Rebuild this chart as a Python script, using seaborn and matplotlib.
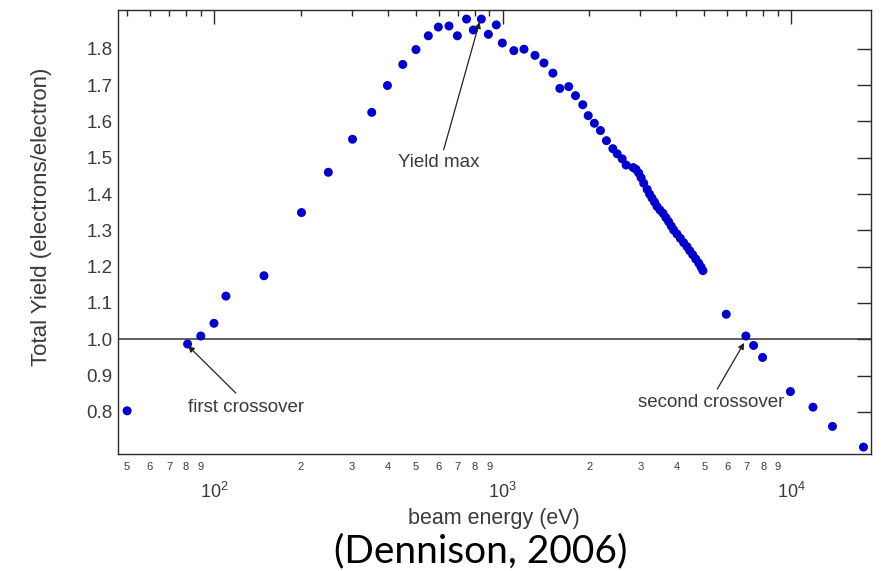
import numpy as np
import pandas as pd
import matplotlib
matplotlib.use("Agg")
import matplotlib.pyplot as plt
from matplotlib.ticker import FixedLocator, FixedFormatter
import seaborn as sns

# Total electron yield vs. incident beam energy
energy_ev = [50, 81, 90, 100, 110, 149, 201, 249, 302, 352, 399, 451, 501, 553,
             599, 652, 697, 750, 792, 844, 893, 951, 998, 1094, 1186, 1295, 1391,
             1494, 1579, 1695, 1789, 1896, 1980, 2080, 2183, 2290, 2410, 2495,
             2596, 2680, 2834, 2900, 2962, 3020, 3083, 3168, 3230, 3293, 3360,
             3427, 3510, 3597, 3680, 3760, 3840, 3915, 4020, 4130, 4240, 4356,
             4450, 4557, 4670, 4780, 4870, 4945, 5957, 6966, 7407, 7960, 9940,
             11900, 13900, 17800]
total_yield = [0.803, 0.987, 1.009, 1.044, 1.119, 1.175, 1.349, 1.460, 1.551,
               1.625, 1.699, 1.757, 1.798, 1.836, 1.860, 1.863, 1.836, 1.882,
               1.852, 1.882, 1.840, 1.866, 1.816, 1.795, 1.799, 1.782, 1.761,
               1.733, 1.691, 1.696, 1.671, 1.646, 1.616, 1.595, 1.575, 1.547,
               1.525, 1.511, 1.497, 1.480, 1.473, 1.468, 1.458, 1.445, 1.430,
               1.413, 1.400, 1.389, 1.378, 1.366, 1.356, 1.347, 1.335, 1.324,
               1.312, 1.301, 1.290, 1.278, 1.266, 1.255, 1.244, 1.233, 1.221,
               1.210, 1.199, 1.189, 1.069, 1.009, 0.983, 0.950, 0.856, 0.813,
               0.760, 0.703]

y_ticks = [0.8, 0.9, 1.0, 1.1, 1.2, 1.3, 1.4, 1.5, 1.6, 1.7, 1.8]
y_tick_labels = ["0.8", "0.9", "1.0", "1.1", "1.2", "1.3", "1.4", "1.5", "1.6", "1.7", "1.8"]
x_major = [1e2, 1e3, 1e4]
x_major_labels = ["$\\mathregular{10^{2}}$", "$\\mathregular{10^{3}}$", "$\\mathregular{10^{4}}$"]
x_minor = [50, 60, 70, 80, 90, 200, 300, 400, 500, 600, 700, 800, 900,
           2000, 3000, 4000, 5000, 6000, 7000, 8000, 9000]
x_minor_labels = ["5", "6", "7", "8", "9", "2", "3", "4", "5", "6", "7", "8", "9",
                  "2", "3", "4", "5", "6", "7", "8", "9"]

df = pd.DataFrame({"energy": energy_ev, "yield": total_yield})

sns.set_theme(style="white")
plt.rcParams["font.family"] = ["Liberation Sans", "DejaVu Sans"]

text_color = "#3a3a3a"
axis_color = "#2a2a2a"

fig = plt.figure(figsize=(8.82, 5.71), dpi=100)
ax = fig.add_axes([0.1338, 0.2049, 0.8537, 0.7776])

sns.scatterplot(data=df, x="energy", y="yield", ax=ax, color="#0000c8",
                s=42, marker="o", edgecolor="none", linewidth=0, zorder=3)

ax.set_xscale("log")
ax.set_xlim(46.5, 18900)
ax.set_ylim(0.684, 1.907)

# unity-yield reference line
ax.axhline(1.0, color="#333333", lw=1.1, zorder=2)

for side in ["left", "right", "top", "bottom"]:
    ax.spines[side].set_color(axis_color)
    ax.spines[side].set_linewidth(1.0)

ax.xaxis.set_major_locator(FixedLocator(x_major))
ax.xaxis.set_major_formatter(FixedFormatter(x_major_labels))
ax.xaxis.set_minor_locator(FixedLocator(x_minor))
ax.xaxis.set_minor_formatter(FixedFormatter(x_minor_labels))
ax.set_yticks(y_ticks)
ax.set_yticklabels(y_tick_labels)

ax.tick_params(axis="both", which="both", direction="in", top=True, right=True,
               color=axis_color, labelcolor=text_color)
ax.tick_params(axis="x", which="major", length=10, width=1.0, labelsize=13, pad=20)
ax.tick_params(axis="x", which="minor", length=4, width=1.0, labelsize=8, pad=6)
ax.tick_params(axis="y", which="major", length=10, width=1.0, labelsize=13.5, pad=4)

ax.set_xlabel("beam energy (eV)", fontsize=15.5, color=text_color)
ax.set_ylabel("Total Yield (electrons/electron)", fontsize=16, color=text_color)
ax.xaxis.set_label_coords(0.499, -0.122)
ax.yaxis.set_label_coords(-0.088, 0.535)

arrow_kw = dict(arrowstyle="-|>", color="#222222", lw=0.9, mutation_scale=9,
                shrinkA=0, shrinkB=0)
ann_font = dict(fontsize=13.5, color=text_color, ha="center", va="center")

ax.annotate("", xy=(832, 1.874), xytext=(625, 1.522), arrowprops=arrow_kw)
ax.text(600, 1.486, "Yield max", **ann_font)

ax.annotate("", xy=(81.3, 0.982), xytext=(119, 0.852), arrowprops=arrow_kw)
ax.text(129, 0.811, "first crossover", **ann_font)

ax.annotate("", xy=(6870, 0.990), xytext=(5546, 0.863), arrowprops=arrow_kw)
ax.text(5284, 0.825, "second crossover", **ann_font)

fig.text(0.545, 0.0158, "(Dennison, 2006)", fontsize=28, color="black",
         ha="center", va="baseline", family=["Lato", "DejaVu Sans"])

fig.savefig("out.png", dpi=100, facecolor="white")
